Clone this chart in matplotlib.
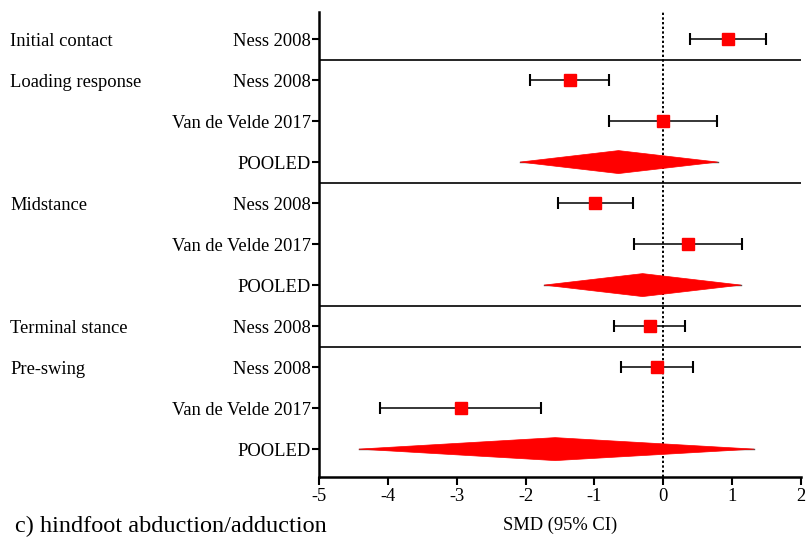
import numpy as np
import matplotlib
matplotlib.use("Agg")
import matplotlib.pyplot as plt
from matplotlib.patches import Polygon
from matplotlib.transforms import blended_transform_factory

plt.rcParams['font.family'] = ['Liberation Serif', 'DejaVu Serif']

# data
groups = ["Initial contact", "Loading response", "Midstance", "Terminal stance", "Pre-swing"]
group_start = [0, 1, 4, 7, 8]

labels = ["Ness 2008",
          "Ness 2008", "Van de Velde 2017", "POOLED",
          "Ness 2008", "Van de Velde 2017", "POOLED",
          "Ness 2008",
          "Ness 2008", "Van de Velde 2017", "POOLED"]
smd = [0.945, -1.36, 0.00, -0.65, -0.99, 0.36, -0.30, -0.20, -0.09, -2.94, -1.57]
lo = [0.39, -1.94, -0.79, -2.08, -1.53, -0.42, -1.73, -0.72, -0.615, -4.11, -4.42]
hi = [1.49, -0.79, 0.775, 0.79, -0.44, 1.15, 1.13, 0.315, 0.43, -1.77, 1.32]
pooled = [False, False, False, True, False, False, True, False, False, False, True]

xticks = [-5, -4, -3, -2, -1, 0, 1, 2]

fs = 13.3

fig = plt.figure(figsize=(8.06, 5.41), dpi=100)
ax = fig.add_axes([319/806, 1 - 477/541, (801 - 319)/806, (477 - 12)/541])

rows = np.arange(len(labels))
red = "#ff0000"

for i in rows:
    if pooled[i]:
        h = 0.28
        ax.plot([lo[i], hi[i]], [i, i], color="#555555", lw=1, zorder=2)
        ax.add_patch(Polygon([(lo[i], i), (smd[i], i - h), (hi[i], i), (smd[i], i + h)],
                             closed=True, facecolor=red, edgecolor=red, lw=0.5, zorder=3))
    else:
        ax.errorbar(smd[i], i, xerr=[[smd[i] - lo[i]], [hi[i] - smd[i]]],
                    fmt="s", color=red, ms=8.6, ecolor="black", elinewidth=1.1,
                    capsize=4.3, capthick=1.5, zorder=3)

for s in group_start[1:]:
    ax.axhline(s - 0.5, color="black", lw=1.2, zorder=1)

ax.axvline(0, color="black", ls=(0, (1.2, 1.2)), lw=1.4, zorder=1)

ax.set_xlim(-5, 2)
ax.set_ylim(len(labels) - 1 + 0.68, -0.66)
ax.set_xticks(xticks)
ax.set_xticklabels([str(t) for t in xticks], fontsize=fs)
ax.set_yticks(rows)
ax.set_yticklabels(labels, fontsize=fs, va="center_baseline")
ax.tick_params(axis="y", length=5, width=1.5, pad=1)
ax.tick_params(axis="x", length=6, width=1.5, pad=2)

for side in ["top", "right"]:
    ax.spines[side].set_visible(False)
for side in ["left", "bottom"]:
    ax.spines[side].set_linewidth(1.8)

ax.set_xlabel("SMD (95% CI)", fontsize=fs, labelpad=8)

trans = blended_transform_factory(fig.transFigure, ax.transData)
for g, s in zip(groups, group_start):
    ax.text(10/806, s, g, transform=trans, fontsize=fs, ha="left", va="center_baseline")

fig.text(15/806, 1 - 532/541, "c) hindfoot abduction/adduction", fontsize=17.5,
         ha="left", va="baseline")

fig.savefig("out.png", dpi=100)
